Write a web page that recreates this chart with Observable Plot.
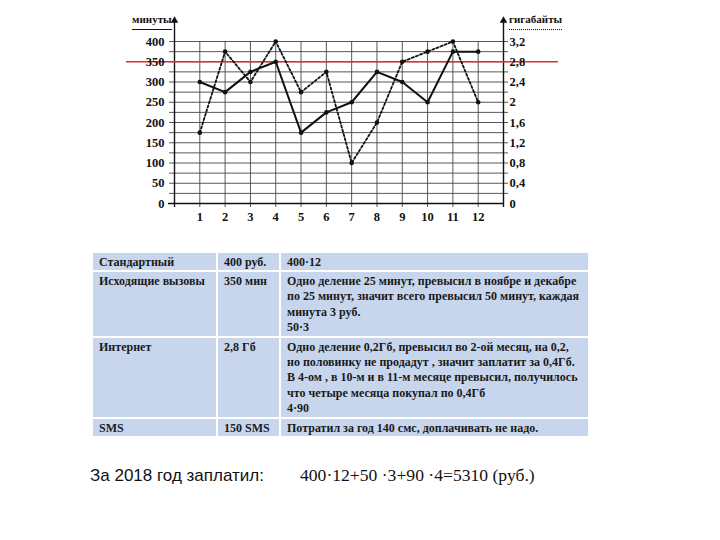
<!DOCTYPE html>
<html>
<head>
<meta charset="utf-8">
<script src="https://cdn.jsdelivr.net/npm/d3@7"></script>
<script src="https://cdn.jsdelivr.net/npm/@observablehq/plot@0.6"></script>
<style>
  html, body { margin: 0; padding: 0; background: #fff; }
  #wrap { position: relative; width: 720px; height: 540px; overflow: hidden; background: #fff; }
  #chart { position: absolute; left: 0; top: 0; }
  .ytitle { position: absolute; font-family: "Liberation Serif", serif; font-weight: bold; font-size: 11px; line-height: 13px; color: #111; padding-bottom: 3px; }
  #tleft { left: 132px; top: 13px; border-bottom: 1.3px solid #111; }
  #tright { left: 509px; top: 13px; border-bottom: 1.5px dotted #111; }
  #tbl { position: absolute; left: 91px; top: 251px; border-collapse: collapse; table-layout: fixed; width: 497px; }
  #tbl td { background: #c7d6ec; border: 2px solid #fff; padding: 1.5px 6px 0.5px 6px; vertical-align: top; overflow: visible;
            font-family: "Liberation Serif", serif; font-weight: bold; font-size: 12px; line-height: 15.4px; color: #1a1a1a; white-space: nowrap; }
  #b1 { position: absolute; left: 90px; top: 466px; white-space: nowrap; font-family: "Liberation Sans", Arial, sans-serif; font-size: 17px; color: #111; }
  #b2 { position: absolute; left: 300px; top: 465px; white-space: nowrap; font-family: "Liberation Serif", serif; font-size: 17.6px; color: #111; }
</style>
</head>
<body>
<div id="wrap">
  <div id="chart"></div>
  <div class="ytitle" id="tleft"></div>
  <div class="ytitle" id="tright"></div>
  <table id="tbl"><colgroup><col style="width:125px"><col style="width:63px"><col style="width:309px"></colgroup><tbody></tbody></table>
  <div id="b1"></div>
  <div id="b2"></div>
</div>
<script>
// ---- data ----
const months = [1, 2, 3, 4, 5, 6, 7, 8, 9, 10, 11, 12];
const minutes = [300, 275, 325, 350, 175, 225, 250, 325, 300, 250, 375, 375];
const gigabytes = [1.4, 3.0, 2.4, 3.2, 2.2, 2.6, 0.8, 1.6, 2.8, 3.0, 3.2, 2.0];
const minuteTicks = [0, 50, 100, 150, 200, 250, 300, 350, 400];
const gbTicks = [0, 0.4, 0.8, 1.2, 1.6, 2.0, 2.4, 2.8, 3.2];
const gbTickLabels = ["0", "0,4", "0,8", "1,2", "1,6", "2", "2,4", "2,8", "3,2"];
const gridMinutes = [25, 50, 75, 100, 125, 150, 175, 200, 225, 250, 275, 300, 325, 350, 375, 400];
const limitMinutes = [350];
const xExtent = [0, 13];
const minutesPerGb = 125; // 3,2 GB on the right axis corresponds to 400 on the left
const leftTitle = "минуты";
const rightTitle = "гигабайты";

const tableCol1 = ["Стандартный", "Исходящие вызовы", "Интернет", "SMS"];
const tableCol2 = ["400 руб.", "350 мин", "2,8 Гб", "150 SMS"];
const tableCol3 = [
  ["400·12"],
  ["Одно деление 25 минут, превысил в ноябре и декабре",
   "по 25 минут, значит всего превысил 50 минут, каждая",
   "минута 3 руб.",
   "50·3"],
  ["Одно деление 0,2Гб, превысил во 2-ой месяц, на 0,2,",
   "но половинку не продадут , значит заплатит за 0,4Гб.",
   "В 4-ом , в 10-м и в 11-м месяце превысил, получилось",
   "что четыре месяца покупал по 0,4Гб",
   "4·90"],
  ["Потратил за год 140 смс, доплачивать не надо."]
];
const bottomLabel = "За 2018 год заплатил:";
const bottomFormula = "400·12+50 ·3+90 ·4=5310 (руб.)";

// ---- chart ----
const gridColor = "#454545";
const chart = Plot.plot({
  width: 720,
  height: 232,
  marginLeft: 174,
  marginRight: 217,
  marginTop: 41,
  marginBottom: 29,
  style: { fontFamily: "'Liberation Serif', serif", fontWeight: "bold", fontSize: "12.5px", color: "#111", background: "transparent" },
  x: { domain: xExtent, label: null },
  y: { domain: [0, 400], label: null },
  marks: [
    Plot.ruleY(gridMinutes, { stroke: gridColor, strokeWidth: 0.9, insetLeft: -5, insetRight: -5 }),
    Plot.ruleX(months, { stroke: gridColor, strokeWidth: 0.9, insetBottom: -4 }),
    Plot.ruleY([0], { stroke: "#111", strokeWidth: 1.4, insetLeft: -6 }),
    Plot.ruleX(xExtent, { stroke: "#111", strokeWidth: 1.4, insetTop: -21, insetBottom: -4 }),
    Plot.dot(xExtent, { x: d => d, frameAnchor: "top", dy: -21, symbol: "triangle", r: 2.8, fill: "#111", stroke: null }),
    Plot.ruleY(limitMinutes, { stroke: "#e0302e", strokeWidth: 1.5, insetLeft: -48, insetRight: -55 }),
    Plot.line(gigabytes, { x: (d, i) => months[i], y: d => d * minutesPerGb, stroke: "#111", strokeWidth: 1.8, strokeDasharray: "2.2,2.2" }),
    Plot.line(minutes, { x: (d, i) => months[i], y: d => d, stroke: "#111", strokeWidth: 2 }),
    Plot.dot(gigabytes, { x: (d, i) => months[i], y: d => d * minutesPerGb, r: 2.3, fill: "#111" }),
    Plot.dot(minutes, { x: (d, i) => months[i], y: d => d, r: 2.3, fill: "#111" }),
    Plot.axisY({ ticks: minuteTicks, tickSize: 0, tickPadding: 10, label: null }),
    Plot.axisY({ anchor: "right", ticks: gbTicks.map(g => g * minutesPerGb), tickSize: 0, tickPadding: 6, label: null,
                 tickFormat: d => gbTickLabels[gbTicks.findIndex(g => Math.abs(g * minutesPerGb - d) < 1e-6)] }),
    Plot.axisX({ ticks: months, tickSize: 0, tickPadding: 9, label: null })
  ]
});
document.getElementById("chart").appendChild(chart);
document.getElementById("tleft").textContent = leftTitle;
document.getElementById("tright").textContent = rightTitle;

// ---- table ----
const tbody = document.querySelector("#tbl tbody");
tableCol1.forEach((c1, i) => {
  const tr = document.createElement("tr");
  const td1 = document.createElement("td"); td1.textContent = c1;
  const td2 = document.createElement("td"); td2.textContent = tableCol2[i];
  const td3 = document.createElement("td");
  tableCol3[i].forEach((line, j) => {
    if (j) td3.appendChild(document.createElement("br"));
    td3.appendChild(document.createTextNode(line));
  });
  tr.append(td1, td2, td3);
  tbody.appendChild(tr);
});
document.getElementById("b1").textContent = bottomLabel;
document.getElementById("b2").textContent = bottomFormula;
</script>
</body>
</html>
